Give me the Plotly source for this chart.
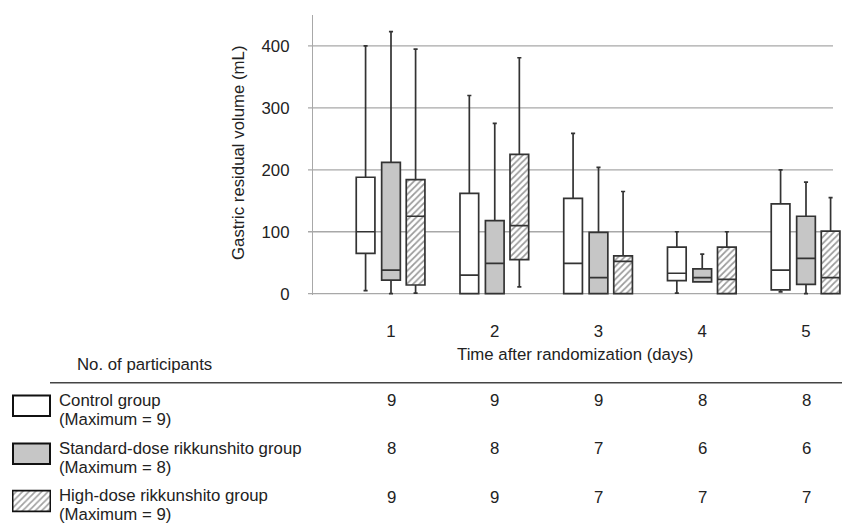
import plotly.graph_objects as go

W, H = 842, 525

days = [1, 2, 3, 4, 5]
tick_labels = ["1", "2", "3", "4", "5"]

control_min = [5, 0, 0, 1, 3]
control_q1 = [65, 0, 0, 21, 6]
control_med = [100, 30, 49, 33, 38]
control_q3 = [188, 162, 154, 75, 145]
control_max = [400, 320, 259, 100, 200]

std_min = [0, 0, 0, 19, 0]
std_q1 = [22, 0, 0, 19, 15]
std_med = [38, 49, 26, 26, 57]
std_q3 = [212, 118, 99, 40, 125]
std_max = [423, 275, 204, 64, 180]

high_min = [1, 11, 0, 0, 0]
high_q1 = [14, 55, 0, 0, 0]
high_med = [125, 110, 52, 23, 26]
high_q3 = [184, 225, 61, 75, 101]
high_max = [395, 381, 165, 100, 155]

n_control = [9, 9, 9, 8, 8]
n_std = [8, 8, 7, 6, 6]
n_high = [9, 9, 7, 7, 7]

group_labels = [
    ("Control group", "(Maximum = 9)"),
    ("Standard-dose rikkunshito group", "(Maximum = 8)"),
    ("High-dose rikkunshito group", "(Maximum = 9)"),
]

y_ticks = [0, 100, 200, 300, 400]

FONT = "Liberation Sans, Arial, sans-serif"
FS = 16.8
TXT = "#222222"
EDGE = "#333333"
GRID = "#a8a8a8"

off_c, off_h = -0.245, 0.237
bw = 0.18


def px(x):
    return x / W


def py(y):
    return 1 - y / H


fig = go.Figure()

# hatched body for high-dose boxes
fig.add_trace(go.Bar(
    x=[d + off_h for d in days],
    base=high_q1,
    y=[q3 - q1 for q1, q3 in zip(high_q1, high_q3)],
    width=bw,
    marker=dict(color="white", line=dict(width=0),
                pattern=dict(shape="/", fgcolor="#333333", bgcolor="white", size=4.5, solidity=0.38)),
    showlegend=False, hoverinfo="skip",
))

for off, q1, med, q3, lo, hi, fill in [
    (off_c, control_q1, control_med, control_q3, control_min, control_max, "white"),
    (0.0, std_q1, std_med, std_q3, std_min, std_max, "#c6c6c6"),
    (off_h, high_q1, high_med, high_q3, high_min, high_max, "rgba(0,0,0,0)"),
]:
    fig.add_trace(go.Box(
        x=[d + off for d in days],
        q1=q1, median=med, q3=q3, lowerfence=lo, upperfence=hi,
        width=bw, whiskerwidth=0.22,
        fillcolor=fill, line=dict(color=EDGE, width=1.7),
        boxpoints=False, showlegend=False, hoverinfo="skip",
    ))

# legend swatch with hatch (small inset axis)
fig.add_trace(go.Bar(
    x=[0], y=[1], width=1, xaxis="x2", yaxis="y2",
    marker=dict(color="white", line=dict(color="#111111", width=2),
                pattern=dict(shape="/", fgcolor="#444444", bgcolor="white", size=4.5, solidity=0.38)),
    showlegend=False, hoverinfo="skip",
))

shapes = []
for t in y_ticks:
    shapes.append(dict(type="line", xref="paper", yref="y", x0=px(308), x1=px(833), y0=t, y1=t,
                       line=dict(color=GRID, width=1.3), layer="below"))
# table rule
shapes.append(dict(type="line", xref="paper", yref="paper", x0=px(50), x1=px(842), y0=py(382.7), y1=py(382.7),
                   line=dict(color="#444444", width=1.5)))
# legend swatches
shapes.append(dict(type="rect", xref="paper", yref="paper", x0=px(13), x1=px(50), y0=py(416), y1=py(395.5),
                   line=dict(color="#111111", width=2), fillcolor="white"))
shapes.append(dict(type="rect", xref="paper", yref="paper", x0=px(13), x1=px(50), y0=py(464), y1=py(443.5),
                   line=dict(color="#111111", width=2), fillcolor="#c6c6c6"))


def txt(text, x, y, xanchor="center", xref="paper", angle=0):
    return dict(text=text, xref=xref, yref="paper", x=x, y=py(y), xanchor=xanchor, yanchor="middle",
                textangle=angle, showarrow=False, font=dict(size=FS, color=TXT, family=FONT))


ann = []
ann.append(txt("Gastric residual volume (mL)", px(239), 153, angle=-90))
ann.append(txt("Time after randomization (days)", px(575), 354))
ann.append(txt("No. of participants", px(75), 364, xanchor="left"))

row_y = [(400, 419), (448, 467), (495.5, 514.5)]
for (l1, l2), (y1, y2) in zip(group_labels, row_y):
    ann.append(txt(l1, px(57), y1, xanchor="left"))
    ann.append(txt(l2, px(57), y2, xanchor="left"))

for counts, yy in zip([n_control, n_std, n_high], [400, 448.5, 497]):
    for d, n in zip(days, counts):
        ann.append(txt(str(n), d, yy, xref="x"))

fig.update_layout(
    width=W, height=H,
    margin=dict(l=0, r=0, t=0, b=0),
    paper_bgcolor="white", plot_bgcolor="white",
    barmode="overlay", boxmode="overlay",
    font=dict(family=FONT, size=FS, color=TXT),
    xaxis=dict(domain=[px(313), 1], range=[0.2482, 5.347], tickvals=days, ticktext=tick_labels,
               showgrid=False, zeroline=False, showline=False, ticks="", ticklabelstandoff=24,
               tickfont=dict(size=FS, color=TXT, family=FONT), automargin=False, fixedrange=True),
    yaxis=dict(domain=[py(294.9), py(15)], range=[-2, 450], tickvals=y_ticks,
               showgrid=False, zeroline=False, showline=True, linecolor=GRID, linewidth=1.3,
               ticks="", ticklabelstandoff=19,
               tickfont=dict(size=FS, color=TXT, family=FONT), automargin=False, fixedrange=True),
    xaxis2=dict(domain=[px(12), px(51)], range=[-0.513, 0.513], visible=False, fixedrange=True, anchor="y2"),
    yaxis2=dict(domain=[py(512.5), py(489.5)], range=[-0.045, 1.045], visible=False, fixedrange=True, anchor="x2"),
    shapes=shapes,
    annotations=ann,
)

fig.write_html("out.html", config={"displayModeBar": False},
               post_script="document.body.style.margin='0';document.body.style.padding='0';")
